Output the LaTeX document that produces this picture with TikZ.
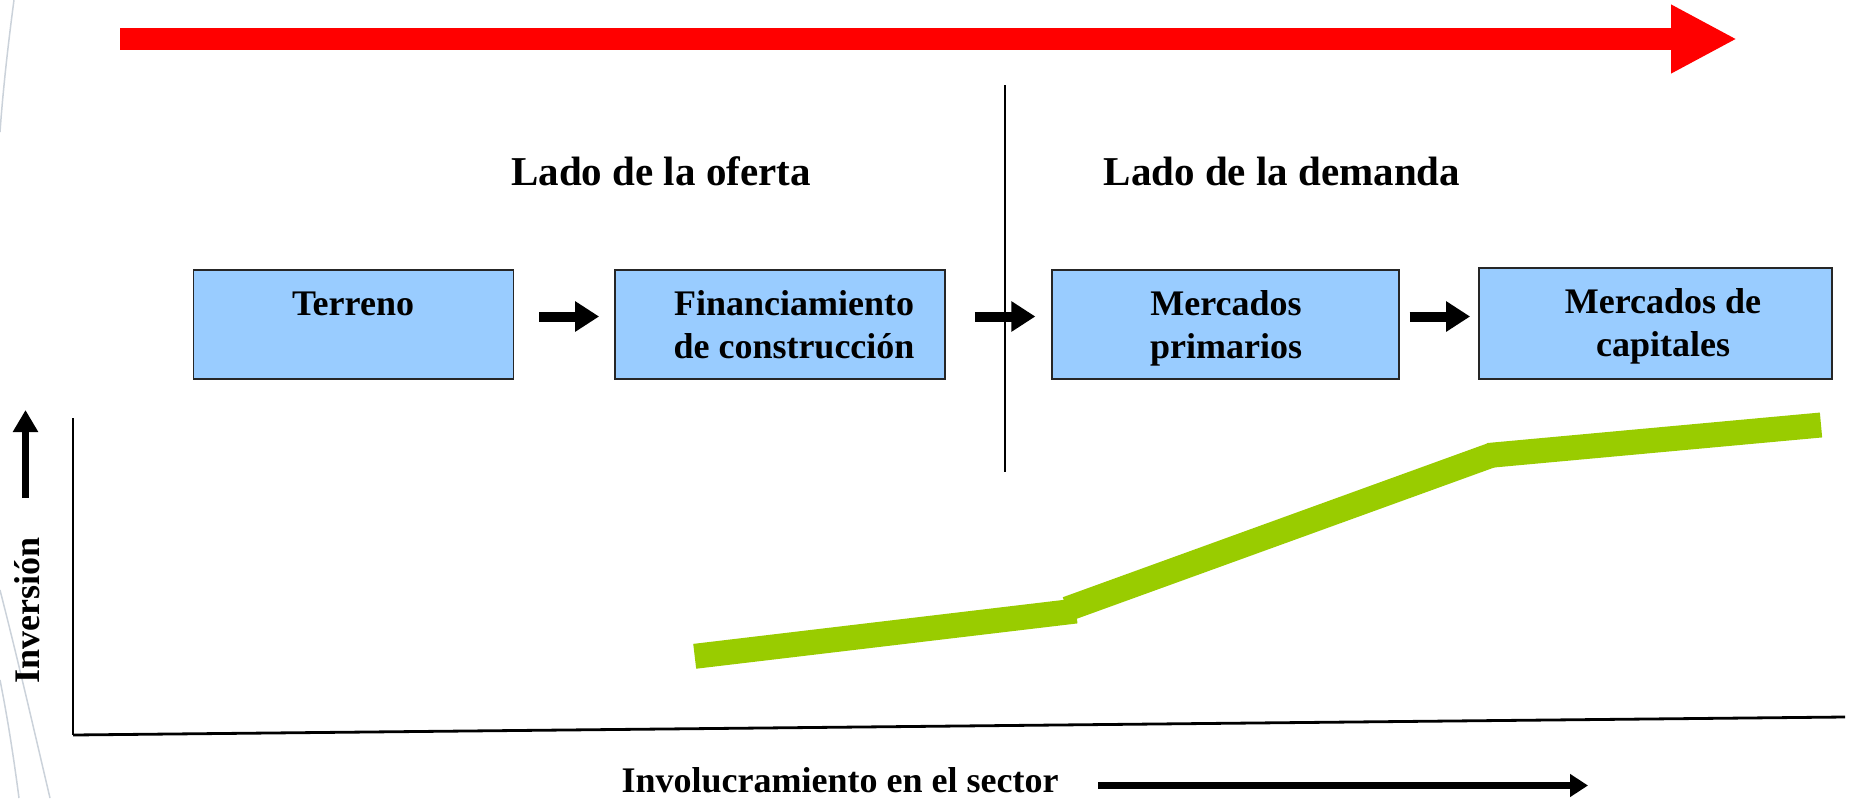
\documentclass[tikz,border=0pt]{standalone}
\usepackage{fontspec}
\setmainfont{Liberation Serif}
\usetikzlibrary{arrows.meta}
\definecolor{boxblue}{HTML}{99CCFF}
\definecolor{lgreen}{HTML}{99CC00}
\definecolor{deco}{HTML}{CBD2DA}
\begin{document}
\begin{tikzpicture}[x=1pt,y=-1pt,
  box/.style={draw=black!85, line width=1.8pt, fill=boxblue, inner sep=0pt},
  boxtext/.style={font=\fontsize{36}{43}\selectfont\bfseries, anchor=base, inner sep=0pt},
  titletext/.style={font=\fontsize{41}{49}\selectfont\bfseries, anchor=base, inner sep=0pt},
  blockarrow/.style={line width=10pt, -{Triangle[length=24pt,width=29pt]}},
  greenline/.style={line width=25pt, lgreen},
  decoline/.style={draw=deco, line width=1.5pt},
]
\useasboundingbox (0,0) rectangle (1852,798);

% faint decorative arcs
\draw[decoline] (14,0) .. controls (8,45) and (3,90) .. (0,132);
\draw[decoline] (0,590) .. controls (18,660) and (34,730) .. (50,798);
\draw[decoline] (0,680) .. controls (8,720) and (14,760) .. (19,798);

% red arrow
\coordinate (rs) at (120,39);
\coordinate (re) at (1737,39);
\draw[red, line width=22pt, -{Triangle[length=66pt,width=64pt]}] (rs) -- (re);

% titles
\node[titletext] (oferta) at (661,185) {Lado de la oferta};
\node[titletext] (demanda) at (1282,185) {Lado de la demanda};

% boxes
\node[box, minimum width=320pt, minimum height=109pt] (t) at (353.5,324.5) {};
\node[box, minimum width=330pt, minimum height=109pt] (f) at (780,324.5) {};
\node[box, minimum width=347pt, minimum height=109pt] (p) at (1225.75,324.5) {};
\node[box, minimum width=353pt, minimum height=111pt] (c) at (1655.5,323.5) {};

\node[boxtext] (t1) at (353,315) {Terreno};
\node[boxtext] (f1) at (794,315) {Financiamiento};
\node[boxtext] (f2) at (794,358) {de construcción};
\node[boxtext] (p1) at (1226,315) {Mercados};
\node[boxtext] (p2) at (1226,358) {primarios};
\node[boxtext] (c1) at (1663,313) {Mercados de};
\node[boxtext] (c2) at (1663,356) {capitales};

% block arrows between boxes
\coordinate (a1s) at ([yshift=8pt]t.east);
\coordinate (a2s) at ([yshift=8pt]f.east);
\coordinate (a3s) at ([yshift=8pt]p.east);
\draw[blockarrow, shorten <=25pt, shorten >=15pt] (a1s) -- (a1s -| f.west);
\draw[blockarrow, shorten <=29pt, shorten >=16pt] (a2s) -- (a2s -| p.west);
\draw[blockarrow, shorten <=9.5pt, shorten >=8pt] (a3s) -- (a3s -| c.west);

% divider
\coordinate (d1) at (1005,85);
\coordinate (d2) at (1005,472);
\draw[line width=1.8pt] (d1) -- (d2);

% axes
\coordinate (O) at (73,735);
\coordinate (ytop) at (73,418);
\coordinate (xend) at (1845,717);
\draw[line width=2.2pt] (ytop) -- (O);
\draw[line width=2.8pt] (O) -- (xend);

% green curve
\coordinate (g1) at (694.7,656.3);
\coordinate (g2) at (1076,611);
\coordinate (g3) at (1067,609);
\coordinate (g4) at (1492,455);
\coordinate (g5) at (1488,455.5);
\coordinate (g6) at (1821,425);
\draw[greenline] (g1) -- (g2);
\draw[greenline] (g5) -- (g6);
\draw[greenline] (g3) -- (g4);

% axis labels and arrows
\coordinate (ua1) at (25.5,498);
\coordinate (ua2) at (25.5,410);
\draw[line width=7pt, -{Triangle[length=22pt,width=24pt]}] (ua1) -- (ua2);
\node[boxtext, rotate=90] (inv) at (39,610) {Inversión};

\node[boxtext] (inv2) at (840,792) {Involucramiento en el sector};
\coordinate (ba1) at (1098,785.5);
\coordinate (ba2) at (1588,785.5);
\draw[line width=6.5pt, -{Triangle[length=18pt,width=22pt]}] (ba1) -- (ba2);
\end{tikzpicture}
\end{document}
